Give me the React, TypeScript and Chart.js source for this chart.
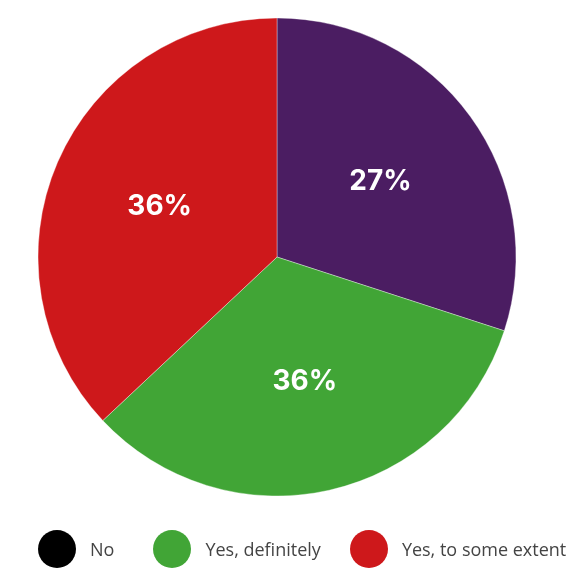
import React, { useEffect, useRef } from "react";
import { Chart, registerables } from "chart.js";

Chart.register(...registerables);

// Slices, clockwise from 12 o'clock
const categories = ["Not sure", "No", "Yes, definitely", "Yes, to some extent"];
const values = [30, 0, 33, 37];
const percentLabels = ["27%", "0%", "36%", "36%"];
const sliceColors = ["#4B1D62", "#000000", "#41A536", "#CE181B"];

// Legend entries shown under the pie
const legendCategories = ["No", "Yes, definitely", "Yes, to some extent"];

const pctLabelPlugin = {
  id: "pctLabels",
  afterDatasetsDraw(chart: any) {
    const ctx = chart.ctx;
    const meta = chart.getDatasetMeta(0);
    ctx.save();
    ctx.font = "700 28px Inter, 'Open Sans', sans-serif";
    ctx.fillStyle = "#ffffff";
    ctx.textAlign = "center";
    ctx.textBaseline = "middle";
    meta.data.forEach((arc: any, i: number) => {
      if (!values[i]) return;
      const p = arc.getProps(["x", "y", "startAngle", "endAngle", "outerRadius"], true);
      const mid = (p.startAngle + p.endAngle) / 2;
      const r = p.outerRadius * 0.535;
      ctx.fillText(percentLabels[i], p.x + Math.cos(mid) * r, p.y + Math.sin(mid) * r);
    });
    ctx.restore();
  },
};

export default function App() {
  const canvasRef = useRef<HTMLCanvasElement | null>(null);

  useEffect(() => {
    if (!canvasRef.current) return;
    const chart = new Chart(canvasRef.current, {
      type: "pie",
      data: {
        labels: categories,
        datasets: [
          {
            data: values,
            backgroundColor: sliceColors,
            borderColor: "rgba(255,255,255,0.35)",
            borderWidth: 1,
          },
        ],
      },
      options: {
        animation: false,
        responsive: true,
        maintainAspectRatio: false,
        radius: 239,
        layout: { padding: { top: 0, left: 0, right: 18, bottom: 60 } },
        plugins: {
          legend: { display: false },
          tooltip: { enabled: false },
        },
      },
      plugins: [pctLabelPlugin],
    });
    return () => chart.destroy();
  }, []);

  const legendGaps = [39, 29, 0];

  return (
    <div
      style={{
        position: "fixed",
        left: 0,
        top: 0,
        width: 572,
        height: 574,
        overflow: "hidden",
        background: "#ffffff",
      }}
    >
      <div style={{ position: "absolute", left: 0, top: 0, width: 572, height: 574 }}>
        <canvas ref={canvasRef} />
      </div>
      <div
        style={{
          position: "absolute",
          left: 38,
          top: 530,
          height: 38,
          display: "flex",
          alignItems: "center",
          whiteSpace: "nowrap",
          fontFamily: "'Open Sans', sans-serif",
          fontSize: 18,
          color: "#444444",
        }}
      >
        {legendCategories.map((name, i) => {
          const idx = categories.indexOf(name);
          return (
            <div
              key={name}
              style={{ display: "flex", alignItems: "center", marginRight: legendGaps[i] }}
            >
              <span
                style={{
                  display: "inline-block",
                  width: 38,
                  height: 38,
                  borderRadius: "50%",
                  background: sliceColors[idx],
                  marginRight: 14,
                }}
              />
              <span>{name}</span>
            </div>
          );
        })}
      </div>
    </div>
  );
}
